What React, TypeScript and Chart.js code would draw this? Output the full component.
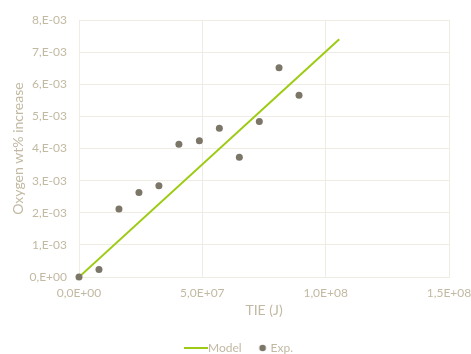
import React, { useEffect, useRef } from "react";
import { Chart, registerables } from "chart.js";

Chart.register(...registerables);

// Measured energy (J) and oxygen uptake (wt% increase)
const expEnergy = [0, 8.1e6, 16.2e6, 24.3e6, 32.4e6, 40.5e6, 48.8e6, 56.9e6, 65.0e6, 73.1e6, 81.1e6, 89.2e6];
const expOxygen = [0, 0.23e-3, 2.12e-3, 2.63e-3, 2.84e-3, 4.13e-3, 4.24e-3, 4.63e-3, 3.73e-3, 4.84e-3, 6.51e-3, 5.66e-3];

// Linear model endpoints
const modelEnergy = [0, 1.055e8];
const modelOxygen = [0, 7.4e-3];

const xTicks = [0, 5e7, 1e8, 1.5e8];
const yTicks = [0, 1e-3, 2e-3, 3e-3, 4e-3, 5e-3, 6e-3, 7e-3, 8e-3];

const TEXT = "#c2b9a2";
const GRID = "#efece3";
const LINE = "#9dcb14";
const DOT = "#7b7667";
const FONT = "Lato, 'Liberation Sans', sans-serif";

// Excel-style scientific label with a decimal comma, e.g. "5,0E+07" or "8,E-03"
function sci(v: number, decimals: number): string {
  const [m, e] = v.toExponential(decimals).split("e");
  const exp = parseInt(e, 10);
  const mant = decimals === 0 ? m + "," : m.replace(".", ",");
  const sign = exp < 0 ? "-" : "+";
  return `${mant}E${sign}${String(Math.abs(exp)).padStart(2, "0")}`;
}

// Legend swatch: a short solid line
function lineSwatch(): HTMLCanvasElement {
  const c = document.createElement("canvas");
  c.width = 24;
  c.height = 2;
  const g = c.getContext("2d")!;
  g.fillStyle = LINE;
  g.fillRect(0, 0, 24, 2);
  return c;
}

// Legend swatch: a dot sitting close to its label
function dotSwatch(): HTMLCanvasElement {
  const c = document.createElement("canvas");
  c.width = 20;
  c.height = 8;
  const g = c.getContext("2d")!;
  g.fillStyle = DOT;
  g.beginPath();
  g.arc(14, 4, 3.3, 0, Math.PI * 2);
  g.fill();
  return c;
}

export default function App() {
  const ref = useRef<HTMLCanvasElement>(null);

  useEffect(() => {
    if (!ref.current) return;
    const swatches = [lineSwatch(), dotSwatch()];

    // Compact legend strip near the bottom edge
    const legendFit = {
      id: "legendFit",
      beforeInit(chart: any) {
        const legend = chart.legend;
        if (!legend) return;
        const fit = legend.fit;
        legend.fit = function () {
          fit.call(this);
          this.height = 23;
          this.lineWidths = this.lineWidths.map((w: number) => w - 34);
        };
      },
    };

    const chart = new Chart(ref.current, {
      type: "scatter",
      data: {
        datasets: [
          {
            type: "line",
            label: "Model",
            order: 1,
            data: modelEnergy.map((x, i) => ({ x, y: modelOxygen[i] })),
            borderColor: LINE,
            backgroundColor: LINE,
            borderWidth: 2,
            pointRadius: 0,
            fill: false,
          },
          {
            label: "Exp.",
            order: 0,
            clip: false,
            data: expEnergy.map((x, i) => ({ x, y: expOxygen[i] })),
            backgroundColor: DOT,
            borderColor: DOT,
            borderWidth: 0,
            pointRadius: 3.5,
          },
        ],
      },
      options: {
        responsive: false,
        animation: false,
        layout: { padding: { left: 0, right: 22, top: 20, bottom: 0 } },
        plugins: {
          tooltip: { enabled: false },
          legend: {
            position: "bottom",
            labels: {
              usePointStyle: true,
              boxWidth: 12,
              boxHeight: 12,
              padding: 11,
              color: TEXT,
              font: { family: FONT, size: 12 },
              generateLabels: (c: any) =>
                c.data.datasets.map((ds: any, i: number) => ({
                  text: ds.label,
                  pointStyle: swatches[i],
                  fillStyle: "transparent",
                  strokeStyle: "transparent",
                  lineWidth: 0,
                  fontColor: TEXT,
                  hidden: false,
                  datasetIndex: i,
                })),
            },
          },
        },
        scales: {
          x: {
            type: "linear",
            min: 0,
            max: 1.5e8,
            afterBuildTicks: (s: any) => {
              s.ticks = xTicks.map((value) => ({ value }));
            },
            afterFit: (s: any) => {
              s.height = 54;
              s.paddingRight = 0;
              s.paddingLeft = 0;
            },
            ticks: {
              color: TEXT,
              font: { family: FONT, size: 12 },
              padding: 9,
              maxRotation: 0,
              callback: (v: any) => sci(Number(v), 1),
            },
            grid: { color: GRID, drawTicks: false },
            border: { color: GRID },
            title: {
              display: true,
              text: "TIE (J)",
              color: TEXT,
              font: { family: FONT, size: 14 },
              padding: { top: 0, bottom: 12 },
            },
          },
          y: {
            type: "linear",
            min: 0,
            max: 8e-3,
            afterBuildTicks: (s: any) => {
              s.ticks = yTicks.map((value) => ({ value }));
            },
            afterFit: (s: any) => {
              s.width = 79;
            },
            ticks: {
              color: TEXT,
              font: { family: FONT, size: 12 },
              padding: 12,
              callback: (v: any) => sci(Number(v), 0),
            },
            grid: { color: GRID, drawTicks: false },
            border: { color: GRID },
            title: {
              display: true,
              text: "Oxygen wt% increase",
              color: TEXT,
              font: { family: FONT, size: 14 },
              padding: { top: 10, bottom: 0 },
            },
          },
        },
      },
      plugins: [legendFit],
    } as any);

    return () => chart.destroy();
  }, []);

  return (
    <div style={{ position: "fixed", left: 0, top: 0, width: 471, height: 354, background: "#fff" }}>
      <canvas ref={ref} width={471} height={354} style={{ display: "block" }} />
    </div>
  );
}
